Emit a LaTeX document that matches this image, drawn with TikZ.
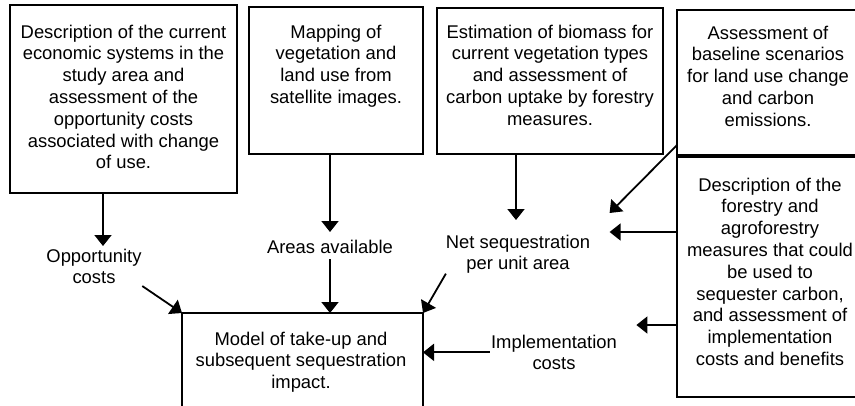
\documentclass[tikz,border=0pt]{standalone}
\usepackage{fontspec}
\setmainfont{Liberation Sans}
\usetikzlibrary{arrows.meta}

\tikzset{
  box/.style={draw, line width=2bp, inner sep=0pt, outer sep=0pt},
  txt/.style={align=center, inner sep=0pt, outer sep=0pt,
              font=\fontsize{18.4bp}{21.8bp}\selectfont},
  arr/.style={line width=1.8bp, -{Triangle[width=17bp,length=11bp]}}
}

\begin{document}
\begin{tikzpicture}[x=1bp, y=-1bp]
  % page frame
  \fill[white] (0,0) rectangle (855,405);
  \clip (0,0) rectangle (855,405);

  % input boxes
  \node[box, minimum width=227bp, minimum height=188bp] (b1) at (123.5,99) {};
  \node[box, minimum width=174bp, minimum height=147bp] (b2) at (336,80.5) {};
  \node[box, minimum width=226bp, minimum height=146bp] (b3) at (550,81) {};
  \node[box, minimum width=183bp, minimum height=145bp] (b4) at (768.5,82.5) {};
  \node[box, minimum width=183bp, minimum height=240bp] (b5) at (768.5,277) {};
  % model box
  \node[box, minimum width=241bp, minimum height=107bp] (model) at (302.5,366.5) {};

  % box texts
  \node[txt, anchor=north] (t1) at (123.5,24.7) {Description of the current\\economic systems in the\\study area and\\assessment of the\\opportunity costs\\associated with change\\of use.};
  \node[txt, anchor=north] (t2) at (336,24.7) {Mapping of\\vegetation and\\land use from\\satellite images.};
  \node[txt, anchor=north] (t3) at (550,24.7) {Estimation of biomass for\\current vegetation types\\and assessment of\\carbon uptake by forestry\\measures.};
  \node[txt, anchor=north] (t4) at (768,25.7) {Assessment of\\baseline scenarios\\for land use change\\and carbon\\emissions.};
  \node[txt, anchor=north] (t5) at (770,177.7) {Description of the\\forestry and\\agroforestry\\measures that could\\be used to\\sequester carbon,\\and assessment of\\implementation\\costs and benefits};
  \node[txt, anchor=north] (tm) at (301,331.7) {Model of take-up and\\subsequent sequestration\\impact.};

  % intermediate labels
  \node[txt, anchor=north] (opp) at (94,248.7) {Opportunity\\costs};
  \node[txt, anchor=north] (area) at (330,239.7) {Areas available};
  \node[txt, anchor=north] (net) at (518,234.7) {Net sequestration\\per unit area};
  \node[txt, anchor=north] (impl) at (554,334.7) {Implementation\\costs};

  % connectors from the input boxes
  \draw[arr] ([xshift=-20.5bp]b1.south) -- ([xshift=9bp,yshift=2.7bp]opp.north);
  \draw[arr] ([xshift=-6bp]b2.south) -- ([yshift=7.7bp]area.north);
  \draw[arr] ([xshift=-34bp]b3.south) -- ([xshift=-2bp,yshift=14.7bp]net.north);
  \draw[arr] ([yshift=10bp]b4.south west) -- ([xshift=19.5bp,yshift=21.7bp]net.north east);
  \draw[arr] ([yshift=-75bp]b5.north west) -- ([xshift=19.5bp,yshift=2.7bp]net.north east);
  \draw[arr] ([yshift=72bp]b5.south west) -- ([xshift=19.5bp,yshift=9.7bp]impl.north east);

  % connectors into the model
  \draw[arr] ([xshift=0.7bp,yshift=-2bp]opp.south east) -- (model.north west);
  \draw[arr] ([yshift=-6bp]area.south) -- (area.south |- model.north);
  \draw[arr] (net.south west) -- (model.north east);
  \draw[arr] ([xshift=-1.5bp]impl.west) -- (impl.west -| model.east);
\end{tikzpicture}
\end{document}
